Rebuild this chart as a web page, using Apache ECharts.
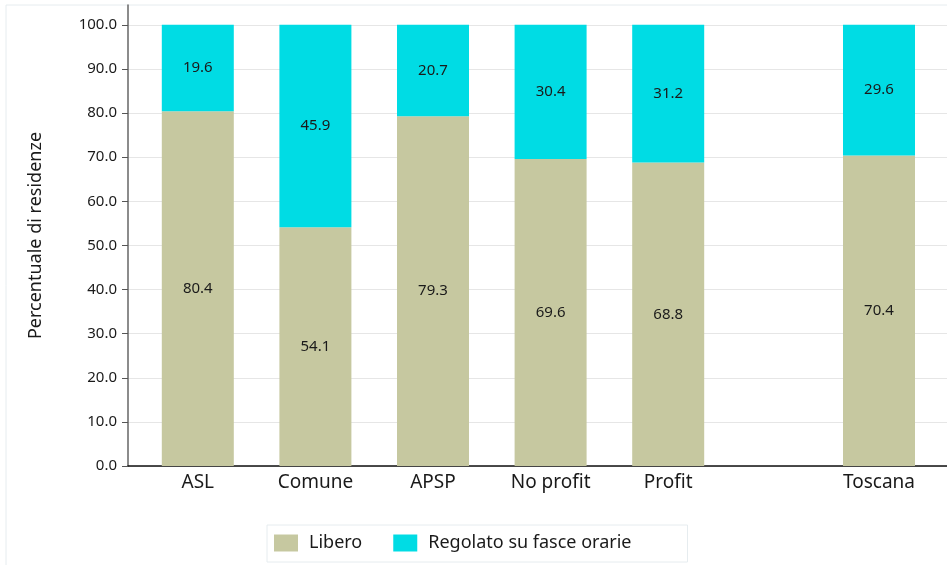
<!DOCTYPE html>
<html>
<head>
<meta charset="utf-8">
<script src="https://cdn.jsdelivr.net/npm/echarts@6/dist/echarts.min.js"></script>
<style>html,body{margin:0;padding:0;background:#fff}#c{width:947px;height:565px}</style>
</head>
<body>
<div id="c"></div>
<script>
const categories = ["ASL", "Comune", "APSP", "No profit", "Profit", "Toscana"];
const liberoValues = [80.4, 54.1, 79.3, 69.6, 68.8, 70.4];
const regolatoValues = [19.6, 45.9, 20.7, 30.4, 31.2, 29.6];
const yTicks = [0, 10, 20, 30, 40, 50, 60, 70, 80, 90, 100];
const seriesNames = ["Libero", "Regolato su fasce orarie"];

const FONT = "Noto Sans";
const C_LIB = "#c6c8a0";
const C_REG = "#00dce4";
const YMAX = 104.5;

const groupCats = categories.slice(0, 5);
const totCats = categories.slice(5);

const chart = echarts.init(document.getElementById('c'), null, {renderer: 'canvas'});

function hiddenY(gi) {
  return {type: 'value', gridIndex: gi, min: 0, max: YMAX, show: false, splitLine: {show: false}};
}
function catX(gi, data) {
  return {
    type: 'category', gridIndex: gi, data: data,
    axisLine: {show: false}, axisTick: {show: false},
    axisLabel: {fontFamily: FONT, fontSize: 19, color: '#1a1a1a', margin: 7}
  };
}
const lbl = {show: true, position: 'inside', fontFamily: FONT, fontSize: 15, color: '#1a1a1a'};

chart.setOption({
  animation: false,
  textStyle: {fontFamily: FONT},
  graphic: [{
    type: 'rect', silent: true, z: -10,
    shape: {x: 6, y: 5, width: 1000, height: 600},
    style: {fill: 'none', stroke: '#e6ecef', lineWidth: 1}
  }],
  grid: [
    {left: 128, right: 0, top: 5, bottom: 99},
    {left: 139, width: 588, top: 5, bottom: 99},
    {left: 820, width: 118, top: 5, bottom: 99}
  ],
  legend: {
    data: seriesNames,
    left: 267, top: 525,
    padding: [9, 56, 10, 7],
    itemWidth: 24, itemHeight: 17, itemGap: 31,
    borderColor: '#e6ecef', borderWidth: 1,
    textStyle: {fontFamily: FONT, fontSize: 18, color: '#1a1a1a', padding: [0, 0, 0, 6]},
    icon: 'rect'
  },
  xAxis: [
    {type: 'value', gridIndex: 0, min: 0, max: 1, axisLine: {show: true, onZero: false, lineStyle: {color: '#111', width: 1.5}},
     axisTick: {show: false}, axisLabel: {show: false}, splitLine: {show: false}},
    catX(1, groupCats),
    catX(2, totCats)
  ],
  yAxis: [
    {type: 'value', gridIndex: 0, min: 0, max: YMAX, interval: 10,
     name: 'Percentuale di residenze', nameLocation: 'middle', nameGap: 83, nameRotate: 90,
     nameTextStyle: {fontFamily: FONT, fontSize: 18, color: '#1a1a1a'},
     axisLine: {show: true, lineStyle: {color: '#666', width: 1.5}},
     axisTick: {show: true, length: 6, lineStyle: {color: '#555'}, customValues: yTicks},
     axisLabel: {fontFamily: FONT, fontSize: 15, color: '#1a1a1a', margin: 11, customValues: yTicks,
                 formatter: v => v.toFixed(1)},
     splitLine: {show: true, lineStyle: {color: '#e6e6e6', width: 1}}},
    hiddenY(1), hiddenY(2)
  ],
  series: [
    {name: seriesNames[0], type: 'bar', stack: 'a', xAxisIndex: 1, yAxisIndex: 1, barWidth: 72,
     itemStyle: {color: C_LIB}, label: lbl, data: liberoValues.slice(0, 5)},
    {name: seriesNames[1], type: 'bar', stack: 'a', xAxisIndex: 1, yAxisIndex: 1, barWidth: 72,
     itemStyle: {color: C_REG}, label: lbl, data: regolatoValues.slice(0, 5)},
    {name: seriesNames[0], type: 'bar', stack: 'b', xAxisIndex: 2, yAxisIndex: 2, barWidth: 72,
     itemStyle: {color: C_LIB}, label: lbl, data: liberoValues.slice(5)},
    {name: seriesNames[1], type: 'bar', stack: 'b', xAxisIndex: 2, yAxisIndex: 2, barWidth: 72,
     itemStyle: {color: C_REG}, label: lbl, data: regolatoValues.slice(5)}
  ]
});
</script>
</body>
</html>
